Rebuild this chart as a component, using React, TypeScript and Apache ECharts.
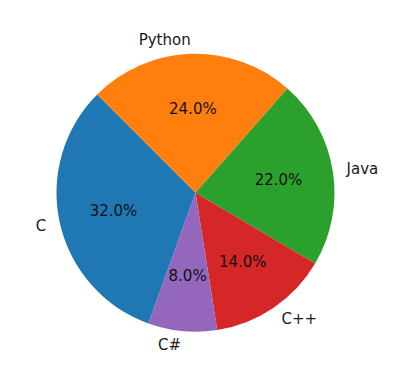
import React, { useEffect, useRef } from "react";
import * as echarts from "echarts";

const categories = ["C", "Python", "Java", "C++", "C#"];
const shares = [32, 24, 22, 14, 8];
const colors = ["#1f77b4", "#ff7f0e", "#2ca02c", "#d62728", "#9467bd"];

export default function App() {
  const ref = useRef<HTMLDivElement>(null);
  useEffect(() => {
    if (!ref.current) return;
    const chart = echarts.init(ref.current, undefined, { renderer: "svg" });
    const R = 139;
    const center = [195.5, 192.7];
    const data = categories.map((name, i) => ({ name, value: shares[i] }));
    chart.setOption({
      animation: false,
      backgroundColor: "#ffffff",
      color: colors,
      series: [
        {
          type: "pie",
          center,
          radius: R,
          startAngle: 250.2,
          clockwise: true,
          avoidLabelOverlap: false,
          silent: true,
          data,
          label: {
            show: true,
            position: "outside",
            formatter: "{b}",
            color: "#1a1a1a",
            fontFamily: "DejaVu Sans",
            fontSize: 15,
            distanceToLabelLine: 0,
          },
          labelLine: { show: false, length: R * 0.1, length2: 0 },
        },
        {
          type: "pie",
          center,
          radius: 162,
          startAngle: 250.2,
          clockwise: true,
          avoidLabelOverlap: false,
          silent: true,
          data,
          itemStyle: { color: "transparent" },
          label: {
            show: true,
            position: "inside",
            formatter: (p: any) => Number(p.percent).toFixed(1) + "%",
            color: "#111111",
            fontFamily: "DejaVu Sans",
            fontSize: 15,
          },
          labelLine: { show: false },
        },
      ],
    });
    return () => chart.dispose();
  }, []);
  return (
    <div
      ref={ref}
      style={{ position: "absolute", left: 0, top: 0, width: 400, height: 389 }}
    />
  );
}
